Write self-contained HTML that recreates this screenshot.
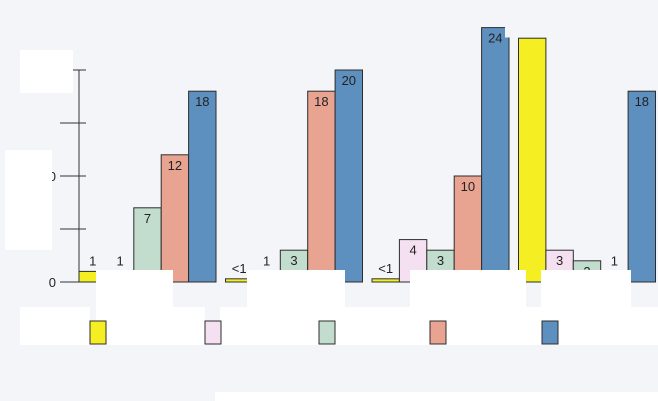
<!DOCTYPE html>
<html><head><meta charset="utf-8">
<style>
html,body{margin:0;padding:0;background:#f3f4f8;}
svg{display:block;font-family:"Liberation Sans",sans-serif;}
</style></head>
<body>
<svg id="chart" width="658" height="401">
<rect x="0" y="0" width="658" height="401" fill="#f4f5f9"/>
<g id="axis"></g>
<g id="bars"></g>
<g id="covers"></g>
<g id="legend"></g>
</svg>
<script>
const groups = ["g1","g2","g3","g4"];
const seriesNames = ["s1","s2","s3","s4","s5"];
const seriesColors = ["#f4ee22","#f5e0f2","#c2ddcd","#e8a391","#5e90bf"];
const values = [
  [1, 1, 7, 12, 18],
  [0.3, 1, 3, 18, 20],
  [0.3, 4, 3, 10, 24],
  [23, 3, 2, 1, 18]
];
const labels = [
  ["1","1","7","12","18"],
  ["<1","1","3","18","20"],
  ["<1","4","3","10","24"],
  ["","3","2","1","18"]
];
const yTicks = [0,5,10,15,20];
const yTickLabels = ["0","","10","",""];

const NS="http://www.w3.org/2000/svg";
const y0=282, pxPer=10.6;
function yScale(v){return y0 - v*pxPer;}
function xBar(g,i){return 79 + g*146.5 + i*27.4;}
const bw=27.4;
function mk(tag,attrs,parent){const e=document.createElementNS(NS,tag);for(const k in attrs)e.setAttribute(k,attrs[k]);parent.appendChild(e);return e;}

const axis=document.getElementById('axis');
const bars=document.getElementById('bars');
const covers=document.getElementById('covers');
const legend=document.getElementById('legend');

values.forEach((row,g)=>{
  row.forEach((v,i)=>{
    const x=xBar(g,i), y=yScale(v);
    const r=mk('rect',{x:x,y:y,width:bw,height:y0-y,fill:seriesColors[i],stroke:"#2d2d2d","stroke-width":1},bars);
    
    
    const lbl=labels[g][i];
    if(lbl){
      const inside=v>=2;
      const t=mk('text',{x:x+bw/2,y:inside?y+15:y-6,"text-anchor":"middle","font-size":13,fill:"#222"},bars);
      t.textContent=lbl;
      
      
    }
  });
});

const al=mk('line',{x1:79,y1:70,x2:79,y2:y0,stroke:"#333","stroke-width":1},axis);


yTicks.forEach((v,k)=>{
  const y=yScale(v);
  const tl=mk('line',{x1:60,y1:y,x2:86,y2:y,stroke:"#333","stroke-width":1},axis);
  
  
  if(yTickLabels[k]){
    const t=mk('text',{x:56,y:y+5,"text-anchor":"end","font-size":13,fill:"#222"},axis);
    t.textContent=yTickLabels[k];
    
    
  }
});

const swX=[90,205,319,430,542];
seriesColors.forEach((c,i)=>{
  const r=mk('rect',{x:swX[i],y:321,width:16,height:23,fill:c,stroke:"#2d2d2d","stroke-width":1},legend);
  
  
});

const boxes=[[20,50,53,43],[5,150,47,100],[96,270,77,75],[247,270,98,75],[410,270,74,75],[483,270,43,75],[541,270,90,75],
 [20,307,70,38],[106,307,99,38],[220,307,99,38],[334,307,96,38],[449,307,93,38],[558,307,100,38],[215,392,443,9]];
boxes.forEach(b=>{
  const r=mk('rect',{x:b[0],y:b[1],width:b[2],height:b[3],fill:"#ffffff"},covers);
  
  
});
const cl=mk('rect',{x:505,y:0,width:60,height:37.5,fill:"#f4f5f9"},covers);


</script>
</body></html>
